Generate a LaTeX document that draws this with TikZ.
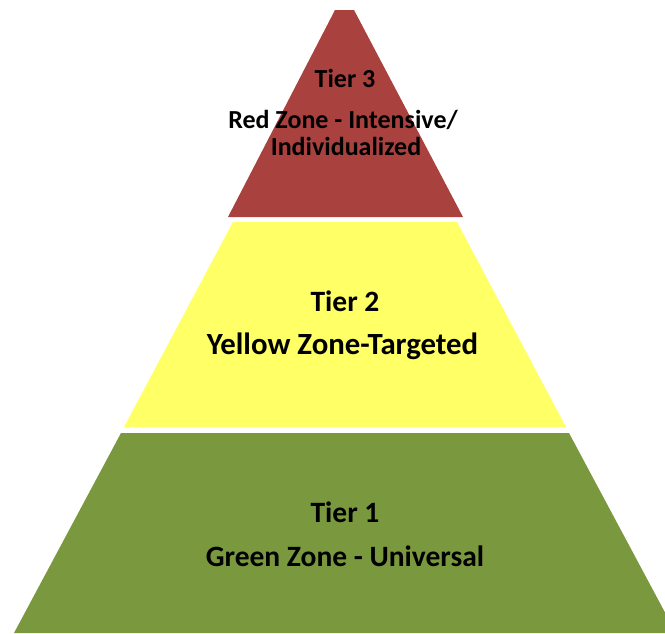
\documentclass[tikz,border=0pt]{standalone}
\usepackage{fontspec}
\setmainfont{Carlito}
\definecolor{tierred}{RGB}{169,65,62}
\definecolor{tieryellow}{RGB}{255,255,102}
\definecolor{tiergreen}{RGB}{122,152,62}
\tikzset{
  tierlabel/.style={anchor=base, inner sep=0pt, font=\bfseries\fontsize{29.5}{34}\selectfont, text=black},
  widelabel/.style={anchor=base, inner sep=0pt, font=\bfseries\fontsize{30.8}{35}\selectfont, text=black},
  smalllabel/.style={anchor=base, inner sep=0pt, font=\bfseries\fontsize{26}{30}\selectfont, text=black}
}
\begin{document}
\begin{tikzpicture}[x=1pt,y=-1pt]
\useasboundingbox (0,0) rectangle (665,633);
\clip (0,0) rectangle (665,633);
% tiers
\fill[tierred] (335,10) -- (354,10) -- (463,217) -- (228,217) -- cycle;
\fill[tieryellow] (233,222) -- (457,222) -- (566,427) -- (124,427) -- cycle;
\fill[tiergreen] (121,433) -- (569,433) -- (676,633) -- (14,633) -- cycle;
% labels
\node[smalllabel] (t3) at (345,87) {Tier 3};
\node[smalllabel] (t3a) at (343,128) {Red Zone - Intensive/};
\node[smalllabel] (t3b) at (346,155) {Individualized};
\node[tierlabel] (t2) at (345,311) {Tier 2};
\node[widelabel] (t2a) at (342.5,354) {Yellow Zone-Targeted};
\node[tierlabel] (t1) at (345,522) {Tier 1};
\node[tierlabel] (t1a) at (345,566) {Green Zone - Universal};
\end{tikzpicture}
\end{document}
